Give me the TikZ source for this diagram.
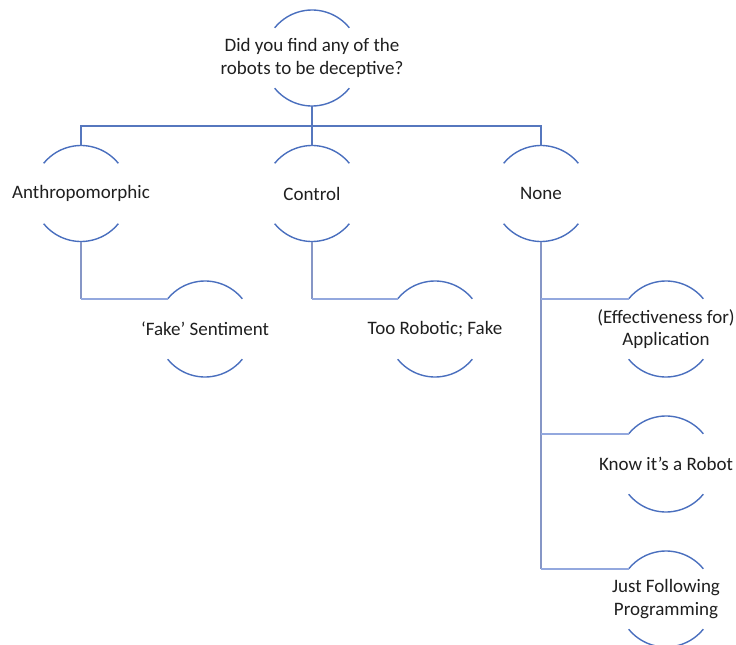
\documentclass[tikz,border=0pt]{standalone}
\usepackage{fontspec}
\usetikzlibrary{calc}
\setmainfont{Carlito}
\begin{document}
\begin{tikzpicture}[x=1pt,y=-1pt,
  ring/.style={shape=circle,minimum size=96pt,inner sep=0pt,outer sep=0pt,draw=none},
  lbl/.style={align=center,font=\fontsize{19}{22.5}\selectfont,text=black!88,inner sep=0pt},
  arcline/.style={draw=arcblue,line width=1.4pt},
  linkmain/.style={draw=linkblue,line width=1.5pt},
  linkdown/.style={draw=downblue,line width=1.6pt},
  linkside/.style={draw=sideblue,line width=1.6pt}]
\definecolor{arcblue}{HTML}{4A6FBE}
\definecolor{linkblue}{HTML}{5677BE}
\definecolor{downblue}{HTML}{8696C6}
\definecolor{sideblue}{HTML}{93A8DE}
\useasboundingbox (0,0) rectangle (736,645);

% open circles: a top arc and a bottom arc around each label
\newcommand{\openring}[1]{%
  \draw[arcline] (#1.39) arc[start angle=39,end angle=141,radius=48pt];
  \draw[arcline] (#1.219) arc[start angle=219,end angle=321,radius=48pt];}

\node[ring] (q) at (312,58) {};
\node[ring] (anth) at (81,193.5) {};
\node[ring] (ctrl) at (312,193.5) {};
\node[ring] (none) at (541,193.5) {};
\node[ring] (fake) at (205,329) {};
\node[ring] (robo) at (435,329) {};
\node[ring] (appl) at (666,329) {};
\node[ring] (know) at (666,464) {};
\node[ring] (prog) at (666,599) {};

\node[lbl] (q-t) at (q) {Did you find any of the\\robots to be deceptive?};
\node[lbl] (anth-t) at (anth) {Anthropomorphic};
\node[lbl] (ctrl-t) at (ctrl) {Control};
\node[lbl] (none-t) at (none) {None};
\node[lbl] (fake-t) at (fake) {‘Fake’ Sentiment};
\node[lbl] (robo-t) at (robo) {Too Robotic; Fake};
\node[lbl] (appl-t) at (appl) {(Effectiveness for)\\Application};
\node[lbl] (know-t) at (know) {Know it’s a Robot};
\node[lbl] (prog-t) at (prog) {Just Following\\Programming};

\foreach \n in {q,anth,ctrl,none,fake,robo,appl,know,prog}{\openring{\n}}

% first level
\coordinate (bus) at ($(q.south)+(0,20)$);
\draw[linkmain] (q.south) -- (ctrl.north);
\draw[linkmain] (anth.north) |- (bus) -| (none.north);

% second level
\draw[linkdown] (anth.south) -- (anth.south |- fake.141);
\draw[linkside] (anth.south |- fake.141) -- (fake.141);
\draw[linkdown] (ctrl.south) -- (ctrl.south |- robo.141);
\draw[linkside] (ctrl.south |- robo.141) -- (robo.141);
\draw[linkdown] (none.south) -- (none.south |- prog.141);
\foreach \n in {appl,know,prog}{
  \draw[linkside] (none.south |- \n.141) -- (\n.141);}
\end{tikzpicture}
\end{document}
